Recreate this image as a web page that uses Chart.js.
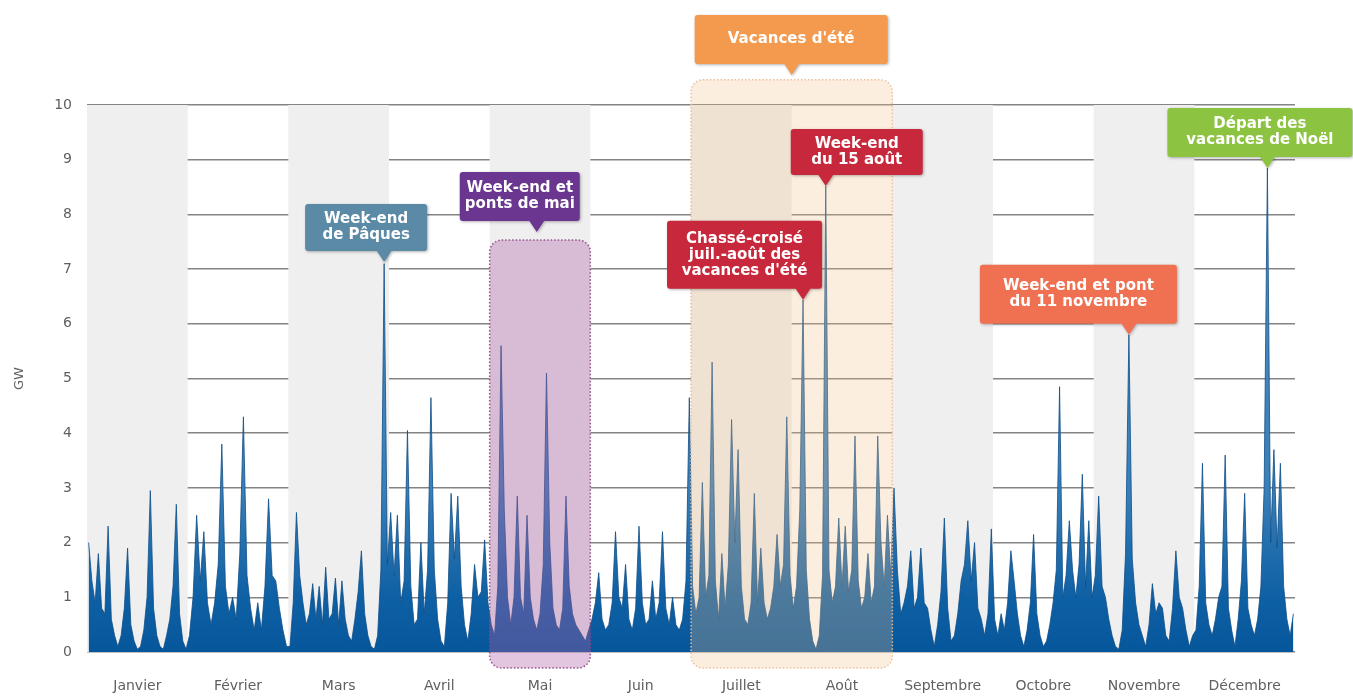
<!DOCTYPE html>
<html lang="fr">
<head>
<meta charset="utf-8">
<title>Pics de puissance</title>
<script src="https://cdn.jsdelivr.net/npm/chart.js@4.4.1/dist/chart.umd.min.js"></script>
<style>
  html, body { margin: 0; padding: 0; background: #fff; }
  #zone { width: 1353px; height: 696px; }
</style>
</head>
<body>
<div id="zone"><canvas id="graphique"></canvas></div>
<script>
// noms des mois (étiquettes de l'axe x)
const mois = ["Janvier", "Février", "Mars", "Avril", "Mai", "Juin", "Juillet", "Août", "Septembre", "Octobre", "Novembre", "Décembre"];
// graduations de l'axe y (GW)
const graduations = [0, 1, 2, 3, 4, 5, 6, 7, 8, 9, 10];

// valeurs journalières (GW), une liste par mois
const janvier = [2.0, 1.3, 0.9, 1.8, 0.8, 0.7, 2.3, 0.6, 0.3, 0.1, 0.3, 0.8, 1.9, 0.5, 0.2, 0.05, 0.1, 0.4, 1.0, 2.95, 0.8, 0.3, 0.1, 0.05, 0.3, 0.6, 1.2, 2.7, 0.7, 0.2, 0.05];
const fevrier = [0.3, 1.0, 2.5, 1.3, 2.2, 0.9, 0.5, 0.9, 1.6, 3.8, 1.2, 0.7, 1.0, 0.6, 1.8, 4.3, 1.4, 0.8, 0.4, 0.9, 0.4, 1.2, 2.8, 1.4, 1.3, 0.8, 0.4, 0.1];
const mars = [0.1, 0.9, 2.55, 1.4, 0.9, 0.5, 0.7, 1.25, 0.6, 1.2, 0.5, 1.55, 0.6, 0.7, 1.35, 0.5, 1.3, 0.6, 0.3, 0.2, 0.6, 1.1, 1.85, 0.7, 0.3, 0.1, 0.05, 0.3, 1.5, 7.1, 1.6];
const avril = [2.55, 1.4, 2.5, 0.9, 1.3, 4.05, 1.2, 0.5, 0.6, 2.0, 0.7, 1.5, 4.65, 1.5, 0.6, 0.2, 0.1, 0.9, 2.9, 1.7, 2.85, 1.2, 0.5, 0.2, 0.7, 1.6, 1.0, 1.1, 2.05, 0.9];
const mai = [0.5, 0.3, 1.2, 5.6, 2.6, 1.0, 0.5, 1.0, 2.85, 1.0, 0.7, 2.5, 1.0, 0.6, 0.4, 0.7, 1.6, 5.1, 2.0, 0.8, 0.5, 0.4, 0.8, 2.85, 1.2, 0.7, 0.5, 0.4, 0.3, 0.2, 0.4];
const juin = [0.6, 0.9, 1.45, 0.6, 0.4, 0.5, 0.9, 2.2, 1.0, 0.8, 1.6, 0.6, 0.4, 0.8, 2.3, 0.9, 0.5, 0.6, 1.3, 0.6, 0.9, 2.2, 0.8, 0.5, 1.0, 0.5, 0.4, 0.6, 1.3, 4.65];
const juillet = [1.2, 0.7, 1.0, 3.1, 1.0, 1.4, 5.3, 1.3, 0.6, 1.8, 0.8, 1.6, 4.25, 2.0, 3.7, 1.2, 0.6, 0.5, 0.9, 2.9, 0.9, 1.9, 0.9, 0.6, 0.8, 1.2, 2.15, 1.2, 1.6, 4.3, 1.4];
const aout = [0.8, 1.2, 2.6, 6.44, 1.5, 0.6, 0.2, 0.05, 0.3, 1.4, 8.52, 1.5, 0.9, 1.2, 2.45, 1.2, 2.3, 1.1, 1.5, 3.95, 1.3, 0.8, 1.0, 1.8, 0.9, 1.2, 3.95, 2.0, 1.2, 2.5, 1.4];
const septembre = [3.0, 1.5, 0.7, 0.9, 1.2, 1.85, 0.8, 1.0, 1.9, 0.9, 0.8, 0.4, 0.1, 0.5, 1.1, 2.45, 0.8, 0.2, 0.3, 0.7, 1.3, 1.6, 2.4, 1.3, 2.0, 0.8, 0.6, 0.3, 0.7, 2.25];
const octobre = [0.6, 0.3, 0.7, 0.4, 0.9, 1.85, 1.3, 0.7, 0.3, 0.1, 0.4, 0.9, 2.15, 0.7, 0.3, 0.1, 0.2, 0.5, 0.9, 1.5, 4.85, 1.0, 1.4, 2.4, 1.5, 1.0, 1.6, 3.25, 1.2, 2.4, 1.0];
const novembre = [1.4, 2.85, 1.2, 1.0, 0.6, 0.3, 0.1, 0.05, 0.4, 1.8, 5.8, 1.7, 0.9, 0.5, 0.3, 0.1, 0.5, 1.25, 0.7, 0.9, 0.8, 0.3, 0.2, 0.8, 1.85, 1.0, 0.8, 0.4, 0.1, 0.3];
const decembre = [0.4, 1.2, 3.45, 0.9, 0.5, 0.3, 0.6, 1.0, 1.2, 3.6, 0.8, 0.4, 0.1, 0.6, 1.3, 2.9, 0.8, 0.5, 0.3, 0.6, 1.2, 3.0, 8.85, 2.0, 3.7, 1.9, 3.45, 1.2, 0.6, 0.3, 0.7];

const annee = [janvier, fevrier, mars, avril, mai, juin, juillet, aout, septembre, octobre, novembre, decembre];

// position d'un jour sur l'axe x (chaque mois a la même largeur)
function position(m, jour) {
    return m + (jour + 0.5) / annee[m].length;
}

const points = [];
annee.forEach((jours, m) => {
    jours.forEach((v, k) => points.push({ x: position(m, k), y: v }));
});

// zones en pointillé (mois de mai, vacances d'été)
const cadres = [
    { debut: 4, fin: 5, haut: 7.53, fond: "rgba(176,93,167,0.36)", trait: "rgba(140,70,130,0.9)" },
    { debut: 6, fin: 8, haut: 10.46, fond: "rgba(245,192,138,0.27)", trait: "rgba(236,190,150,0.95)" }
];

// bulles d'annotation
const bulles = [
    { texte: ["Week-end", "de Pâques"], couleur: "#5b8aa7", x: position(2, 29), pointe: 7.13, gauche: -79, largeur: 122, hauteur: 47 },
    { texte: ["Week-end et", "ponts de mai"], couleur: "#6a368f", x: position(4, 14), pointe: 7.68, gauche: -77, largeur: 120, hauteur: 49 },
    { texte: ["Vacances d'été"], couleur: "#f39a4e", x: 7, pointe: 10.55, gauche: -97, largeur: 193, hauteur: 49 },
    { texte: ["Week-end", "du 15 août"], couleur: "#c8283b", x: position(7, 10), pointe: 8.52, gauche: -35, largeur: 132, hauteur: 46 },
    { texte: ["Chassé-croisé", "juil.-août des", "vacances d'été"], couleur: "#c8283b", x: position(7, 3), pointe: 6.44, gauche: -136, largeur: 155, hauteur: 68 },
    { texte: ["Week-end et pont", "du 11 novembre"], couleur: "#f07152", x: position(10, 10), pointe: 5.8, gauche: -149, largeur: 197, hauteur: 59 },
    { texte: ["Départ des", "vacances de Noël"], couleur: "#8cc441", x: position(11, 22), pointe: 8.85, gauche: -100, largeur: 185, hauteur: 49 }
];

// bandes grises un mois sur deux
const bandes = {
    id: "bandes",
    beforeDatasetsDraw(chart) {
        const { ctx, chartArea, scales } = chart;
        ctx.save();
        ctx.fillStyle = "#efefef";
        for (let m = 0; m < 12; m += 2) {
            const x1 = scales.x.getPixelForValue(m);
            const x2 = scales.x.getPixelForValue(m + 1);
            ctx.fillRect(x1, chartArea.top, x2 - x1, chartArea.bottom - chartArea.top);
        }
        ctx.restore();
    }
};

const zones = {
    id: "zones",
    afterDatasetsDraw(chart) {
        const { ctx, chartArea, scales } = chart;
        ctx.save();
        cadres.forEach(c => {
            const x1 = scales.x.getPixelForValue(c.debut);
            const x2 = scales.x.getPixelForValue(c.fin);
            const y1 = scales.y.getPixelForValue(c.haut);
            const y2 = chartArea.bottom + 16;
            ctx.beginPath();
            ctx.roundRect(x1, y1, x2 - x1, y2 - y1, 12);
            ctx.fillStyle = c.fond;
            ctx.fill();
            ctx.setLineDash([1.5, 2]);
            ctx.lineWidth = 1.5;
            ctx.strokeStyle = c.trait;
            ctx.stroke();
        });
        ctx.restore();
    }
};

const annotations = {
    id: "annotations",
    afterDraw(chart) {
        const { ctx, scales } = chart;
        bulles.forEach(b => {
            const px = scales.x.getPixelForValue(b.x);
            const py = scales.y.getPixelForValue(b.pointe);
            const bas = py - 11;
            const haut = bas - b.hauteur;
            const gauche = px + b.gauche;
            ctx.save();
            ctx.shadowColor = "rgba(0,0,0,0.3)";
            ctx.shadowBlur = 3;
            ctx.shadowOffsetX = 1;
            ctx.shadowOffsetY = 1;
            ctx.fillStyle = b.couleur;
            ctx.beginPath();
            ctx.roundRect(gauche, haut, b.largeur, b.hauteur, 3);
            ctx.moveTo(px - 8, bas - 1);
            ctx.lineTo(px + 8, bas - 1);
            ctx.lineTo(px, py);
            ctx.closePath();
            ctx.fill();
            ctx.restore();

            ctx.save();
            ctx.fillStyle = "#ffffff";
            ctx.font = "bold 15px 'DejaVu Sans'";
            ctx.textAlign = "center";
            ctx.textBaseline = "middle";
            const interligne = 16;
            const cx = gauche + b.largeur / 2;
            const cy = haut + b.hauteur / 2 - (b.texte.length - 1) * interligne / 2;
            b.texte.forEach((ligne, i) => ctx.fillText(ligne, cx, cy + i * interligne));
            ctx.restore();
        });
    }
};

const ctx1 = document.querySelector("#graphique");

new Chart(ctx1, {
    type: "line",
    data: {
        datasets: [{
            label: "GW",
            data: points,
            fill: "origin",
            pointRadius: 0,
            tension: 0,
            borderWidth: 0.8,
            borderColor: "#0e4c86",
            backgroundColor(context) {
                const { chart } = context;
                const zone = chart.chartArea;
                if (!zone) return "#0b5a9e";
                const g = chart.ctx.createLinearGradient(0, zone.bottom, 0, zone.top);
                g.addColorStop(0, "#06569b");
                g.addColorStop(0.1, "#0e60a4");
                g.addColorStop(0.3, "#3a7fb8");
                g.addColorStop(1, "#5591c2");
                return g;
            }
        }]
    },
    options: {
        responsive: true,
        maintainAspectRatio: false,
        animation: false,
        layout: { padding: { top: 105, right: 58, left: 0, bottom: 0 } },
        plugins: {
            legend: { display: false },
            tooltip: { enabled: false }
        },
        scales: {
            x: {
                type: "linear",
                min: 0,
                max: 12,
                grid: { display: false, drawTicks: false },
                border: { display: false },
                afterBuildTicks(scale) {
                    scale.ticks = mois.map((_, i) => ({ value: i + 0.5 }));
                },
                afterFit(scale) {
                    scale.height = 44;
                },
                ticks: {
                    autoSkip: false,
                    maxRotation: 0,
                    padding: 26,
                    color: "#606060",
                    font: { family: "'DejaVu Sans'", size: 14 },
                    callback: (v) => mois[Math.floor(v)]
                }
            },
            y: {
                min: 0,
                max: 10,
                z: 1,
                afterBuildTicks(scale) {
                    scale.ticks = graduations.map(v => ({ value: v }));
                },
                afterFit(scale) {
                    scale.width = 87;
                },
                grid: { color: "rgba(110,110,110,0.85)", lineWidth: 1.5, drawTicks: false },
                border: { display: false },
                ticks: {
                    padding: 15,
                    color: "#606060",
                    font: { family: "'DejaVu Sans'", size: 14 }
                },
                title: {
                    display: true,
                    text: "GW",
                    color: "#606060",
                    font: { family: "'DejaVu Sans'", size: 13 },
                    padding: { top: 12, bottom: 0 }
                }
            }
        }
    },
    plugins: [bandes, zones, annotations]
});
</script>
</body>
</html>
